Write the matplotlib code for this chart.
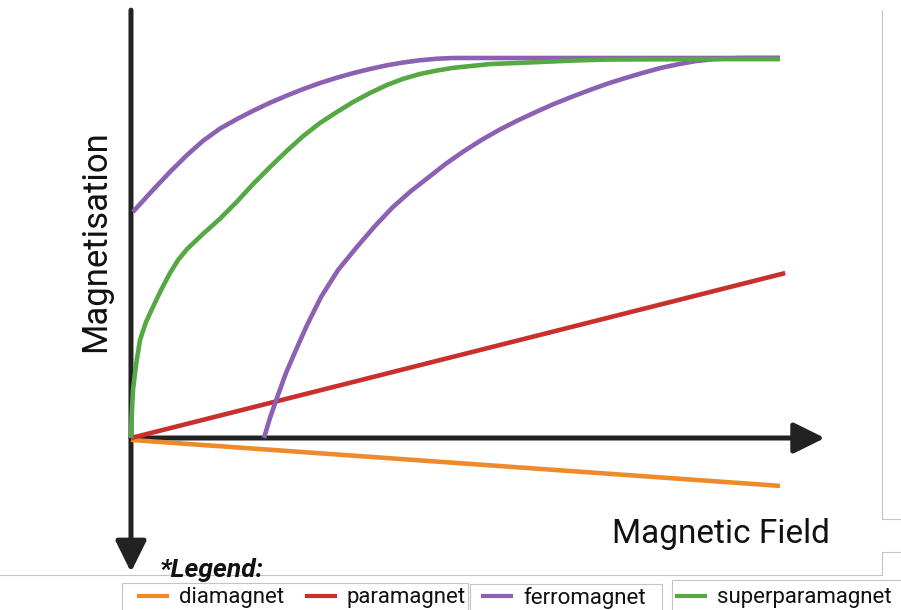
import matplotlib.pyplot as plt
from matplotlib.lines import Line2D
from matplotlib.patches import Rectangle

#------------------------------------------------------------------------------
# Data: field H (arb. units), magnetisation M (normalised to saturation)
#------------------------------------------------------------------------------
labels = ['diamagnet', 'paramagnet', 'ferromagnet', 'superparamagnet']
colors = ['#ee8a2a', '#c9302c', '#8c60b2', '#55a843']

H_dia = [0.0, 10.0]
M_dia = [-0.005, -0.126]

H_para = [0.0, 10.08]
M_para = [0.0, 0.434]

H_ferro_up = [0.03, 0.185, 0.34, 0.60, 0.86, 1.11, 1.37, 1.63, 1.88, 2.14, 2.40, 2.65,
              2.91, 3.17, 3.42, 3.68, 3.95, 4.19, 4.45, 4.71, 4.96, 10.0]
M_ferro_up = [0.595, 0.624, 0.653, 0.700, 0.744, 0.782, 0.814, 0.839, 0.861, 0.882, 0.901, 0.918,
              0.934, 0.948, 0.960, 0.971, 0.981, 0.988, 0.994, 0.998, 1.0, 1.0]

H_ferro_lo = [2.049, 2.142, 2.265, 2.388, 2.527, 2.712, 2.928, 3.190, 3.482, 3.760, 4.037,
              4.315, 4.592, 4.854, 5.131, 5.408, 5.686, 5.963, 6.240, 6.502, 6.780, 7.057,
              7.334, 7.612, 7.889, 8.167, 8.444, 8.706, 8.983, 9.384, 10.0]
M_ferro_lo = [0.0, 0.053, 0.113, 0.171, 0.226, 0.297, 0.371, 0.442, 0.503, 0.558, 0.608,
              0.650, 0.687, 0.722, 0.755, 0.785, 0.812, 0.836, 0.858, 0.878, 0.897, 0.915,
              0.932, 0.947, 0.961, 0.974, 0.984, 0.992, 0.997, 1.0, 1.0]

H_super = [0.0, 0.008, 0.031, 0.077, 0.139, 0.231, 0.339, 0.462, 0.601, 0.724, 0.863, 1.109,
           1.371, 1.633, 1.880, 2.142, 2.404, 2.650, 2.912, 3.174, 3.421, 3.683, 3.945,
           4.191, 4.453, 4.715, 4.961, 5.532, 6.240, 6.764, 7.334, 8.767, 10.0]
M_super = [0.0, 0.047, 0.126, 0.192, 0.258, 0.305, 0.345, 0.389, 0.434, 0.468, 0.497, 0.537,
           0.577, 0.622, 0.668, 0.713, 0.756, 0.794, 0.829, 0.858, 0.884, 0.908, 0.929,
           0.945, 0.958, 0.967, 0.974, 0.984, 0.989, 0.993, 0.996, 0.997, 0.997]

#------------------------------------------------------------------------------
# Figure / axes (axes fill the whole canvas, drawn axes are arrows)
#------------------------------------------------------------------------------
W, H = 901, 610
fig = plt.figure(figsize=(W / 100, H / 100), dpi=100)
ax = fig.add_axes([0, 0, 1, 1])
ax.axis('off')
ax.set_xlim(-2.018, 11.864)
ax.set_ylim(-0.4526, 1.1526)

def fx(px):
    return px / W

def fy(py):
    return 1 - py / H

# axis arrows
arrow = dict(arrowstyle='-|>,head_length=0.95,head_width=0.47', lw=3.6, color='#222222',
             shrinkA=0, shrinkB=0, mutation_scale=20)
ax.annotate('', xy=(0, -0.353), xytext=(0, 1.126), arrowprops=arrow, zorder=1)
ax.annotate('', xy=(10.69, 0), xytext=(0, 0), arrowprops=arrow, zorder=1)

lw = 3.3
style = dict(lw=lw, solid_capstyle='butt', solid_joinstyle='round')
ax.plot(H_dia, M_dia, color=colors[0], zorder=2, **style)
ax.plot(H_para, M_para, color=colors[1], zorder=3, **style)
ax.plot(H_ferro_up, M_ferro_up, color=colors[2], zorder=4, **style)
ax.plot(H_ferro_lo, M_ferro_lo, color=colors[2], zorder=4, **style)
ax.plot(H_super, M_super, color=colors[3], zorder=5, **style)

# labels
fig.text(fx(96), fy(241), 'Magnetisation', rotation=90, ha='center', va='center',
         fontsize=25, family='Roboto', color='#111111')
fig.text(fx(612), fy(543), 'Magnetic Field', ha='left', va='baseline',
         fontsize=24, family='Roboto', color='#111111')
fig.text(fx(160), fy(577), '*Legend:', ha='left', va='baseline', fontsize=19,
         family='Roboto', weight='bold', style='italic', color='#111111')

# screenshot border lines
gray = '#c4c4c4'
for xs, ys in [([882, 882, 901], [10, 519, 519]),
               ([0, 882, 882, 901], [575, 575, 552, 552])]:
    fig.add_artist(Line2D([fx(x) for x in xs], [fy(y) for y in ys], color=gray, lw=0.8))

# legend boxes
for left, top, right in [(122, 583, 468), (470, 584, 662), (672, 580, 910)]:
    fig.add_artist(Rectangle((fx(left), fy(top + 40)), fx(right - left), 40 / H,
                             transform=fig.transFigure, facecolor='white',
                             edgecolor=gray, lw=0.8))

# legend entries
handles = [Line2D([], [], color=c, lw=3) for c in colors]
kw = dict(loc='center left', prop=dict(family='Roboto', size=16), handlelength=1.25,
          handletextpad=0.55, borderpad=0, borderaxespad=0, frameon=False,
          labelcolor='#111111')
for i, left in enumerate([139, 307, 483, 677]):
    fig.legend([handles[i]], [labels[i]], bbox_to_anchor=(fx(left), fy(598)), **kw)

fig.savefig('out.png', dpi=100)
